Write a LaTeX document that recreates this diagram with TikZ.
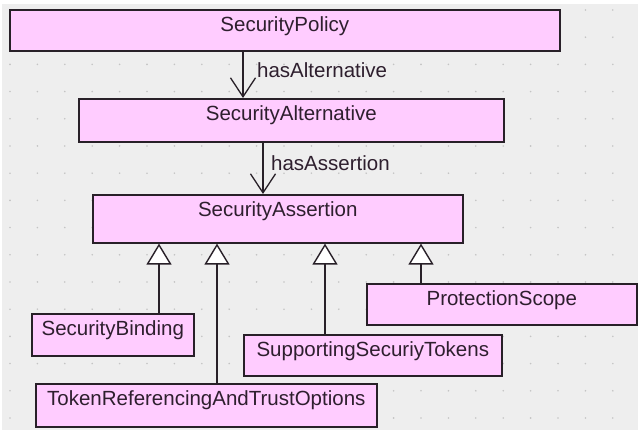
\documentclass[tikz,border=0pt]{standalone}
\usepackage{fontspec}
\setmainfont{Liberation Sans}
\usetikzlibrary{arrows.meta}
\definecolor{bgc}{RGB}{238,238,238}
\definecolor{dotc}{RGB}{196,196,196}
\definecolor{pinkfill}{RGB}{255,204,255}
\definecolor{edgec}{RGB}{40,32,40}
\definecolor{txtc}{RGB}{46,31,46}
\tikzset{
  classbox/.style={draw=edgec, line width=1.6pt, fill=pinkfill, rectangle,
    inner sep=0pt, anchor=north west},
  classname/.style={anchor=north, inner sep=0pt, text=txtc,
    font=\fontsize{20.5}{24}\selectfont},
  rolename/.style={anchor=base west, inner sep=0pt, text=txtc,
    font=\fontsize{20.5}{24}\selectfont},
  assoc/.style={draw=edgec, line width=1.3pt, -{Straight Barb[length=19pt,width=25pt]}},
  generalize/.style={draw=edgec, line width=1.4pt,
    -{Triangle[length=21pt,width=25pt,fill=white]}}
}
\begin{document}
\begin{tikzpicture}[x=1pt,y=-1pt]
\useasboundingbox (0,0) rectangle (638,430);
% canvas with dotted grid
\fill[white] (0,0) rectangle (638,430);
\fill[bgc] (2,4) rectangle (638,430);
\foreach \i in {0,...,22}
  \foreach \j in {0,...,15}
    \fill[dotc] (10+27.4*\i, 10+27.2*\j) circle (0.9pt);

% classes
\node[classbox, minimum width=550pt, minimum height=41pt] (policy) at (9,9) {};
\node[classname] (policyT) at ([yshift=-7.5pt]policy.north) {SecurityPolicy};

\node[classbox, minimum width=425pt, minimum height=43pt] (altern) at (78,98) {};
\node[classname] (alternT) at ([yshift=-7.5pt]altern.north) {SecurityAlternative};

\node[classbox, minimum width=370pt, minimum height=48pt] (assert) at (92,194) {};
\node[classname] (assertT) at ([yshift=-7.5pt]assert.north) {SecurityAssertion};

\node[classbox, minimum width=162pt, minimum height=42pt] (binding) at (31,313) {};
\node[classname] (bindingT) at ([yshift=-7.5pt]binding.north) {SecurityBinding};

\node[classbox, minimum width=341pt, minimum height=43pt] (tokref) at (35,383) {};
\node[classname] (tokrefT) at ([yshift=-7.5pt]tokref.north) {TokenReferencingAndTrustOptions};

\node[classbox, minimum width=258pt, minimum height=41pt] (support) at (243,334) {};
\node[classname] (supportT) at ([yshift=-7.5pt]support.north) {SupportingSecuriyTokens};

\node[classbox, minimum width=270pt, minimum height=41pt] (scope) at (366,283) {};
\node[classname] (scopeT) at ([yshift=-7.5pt]scope.north) {ProtectionScope};

% connector columns
\coordinate (xa) at (243,0);
\coordinate (xb) at (263,0);
\coordinate (g1) at (159,0);
\coordinate (g2) at (217,0);
\coordinate (g3) at (325,0);
\coordinate (g4) at (421,0);

% associations
\draw[assoc] (policy.south -| xa) -- (altern.north -| xa);
\node[rolename] (hasAlt) at (257,78) {hasAlternative};
\draw[assoc] (altern.south -| xb) -- (assert.north -| xb);
\node[rolename] (hasAss) at (271,171) {hasAssertion};

% generalizations
\draw[generalize] (binding.north -| g1) -- (assert.south -| g1);
\draw[generalize] (tokref.north -| g2) -- (assert.south -| g2);
\draw[generalize] (support.north -| g3) -- (assert.south -| g3);
\draw[generalize] (scope.north -| g4) -- (assert.south -| g4);
\end{tikzpicture}
\end{document}
